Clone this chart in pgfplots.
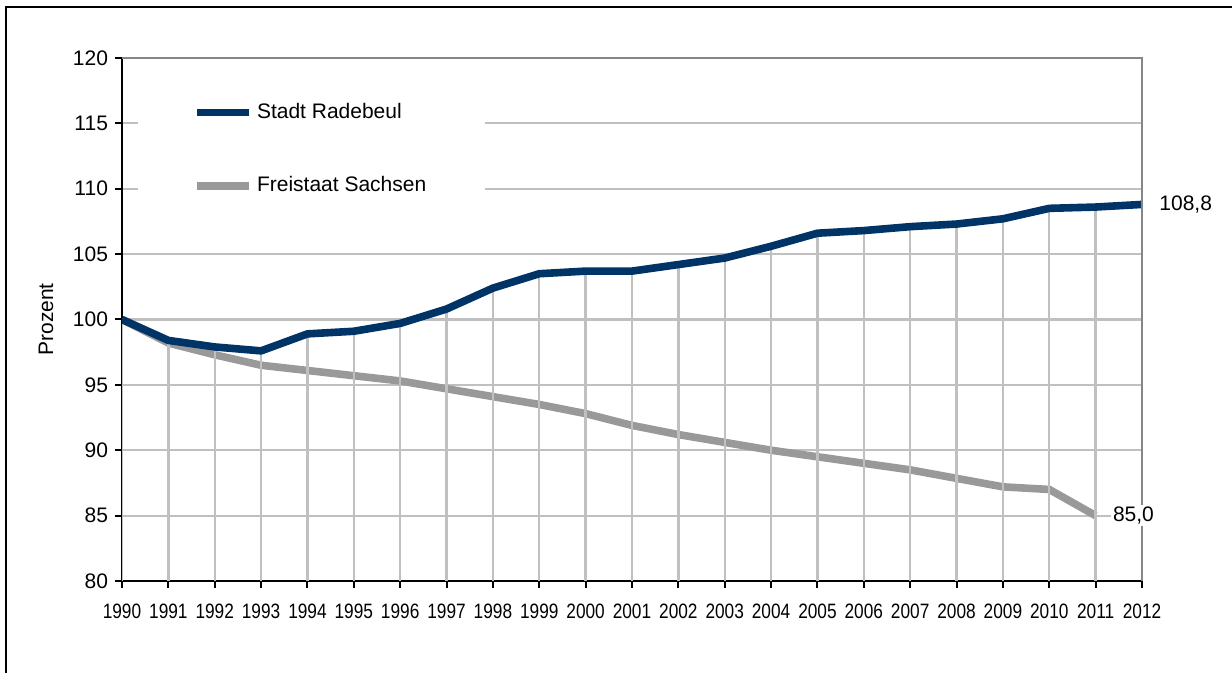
\documentclass[border=0pt]{standalone}
\usepackage{fontspec}
\setmainfont{Liberation Sans}
\usepackage{pgfplots}
\pgfplotsset{compat=1.18}
\usepackage{pgfplotstable}
\definecolor{radblue}{RGB}{0,51,102}
\definecolor{sachgray}{RGB}{153,153,153}
\definecolor{gridgray}{RGB}{192,192,192}
\definecolor{framegray}{RGB}{134,134,134}

\pgfplotstableread{
year rad
1990 100.0
1991 98.4
1992 97.9
1993 97.6
1994 98.9
1995 99.1
1996 99.7
1997 100.8
1998 102.4
1999 103.5
2000 103.7
2001 103.7
2002 104.2
2003 104.7
2004 105.6
2005 106.6
2006 106.8
2007 107.1
2008 107.3
2009 107.7
2010 108.5
2011 108.6
2012 108.8
}\radtab

\pgfplotstableread{
year sax
1990 100.0
1991 98.2
1992 97.3
1993 96.5
1994 96.1
1995 95.7
1996 95.3
1997 94.7
1998 94.1
1999 93.5
2000 92.8
2001 91.9
2002 91.2
2003 90.6
2004 90.0
2005 89.5
2006 89.0
2007 88.5
2008 87.85
2009 87.2
2010 87.0
2011 85.0
}\saxtab

\begin{document}
\begin{tikzpicture}
\path[use as bounding box] (0,0) rectangle (616pt,336.5pt);
\draw[line width=1pt] (3pt,0) -- (3pt,333.2pt) -- (616pt,333.2pt);
\begin{axis}[
  at={(61pt,46pt)}, anchor=south west, scale only axis,
  width=510pt, height=261.5pt,
  xmin=1990, xmax=2012, ymin=80, ymax=120,
  xtick={1990,1991,...,2012}, ytick={80,85,...,120},
  axis x line*=bottom, axis y line*=left,
  axis line style={line width=1.1pt, black, -},
  tick align=outside, major tick length=3.5pt,
  tick style={black, line width=1pt},
  ymajorgrids, grid style={gridgray, line width=1.1pt},
  /pgf/number format/assume math mode=true,
  /pgf/number format/1000 sep={},
  yticklabel style={font=\fontsize{10.5}{12}\selectfont},
  xticklabel style={font=\fontsize{10.4}{12}\selectfont, xscale=0.83, yshift=-4.5pt},
  every axis y label/.style={at={(axis description cs:-0.0745,0.5)}, rotate=90, anchor=center, font=\fontsize{10.5}{12}\selectfont},
  ylabel={Prozent},
  clip mode=individual,
  no markers,
  legend style={at={(axis description cs:0.0157,0.952)}, anchor=north west,
    draw=none, fill=white, inner xsep=27.5pt, inner ysep=8pt, row sep=23.5pt,
    font=\fontsize{10.5}{12}\selectfont, nodes={inner sep=2pt},
    /tikz/every even column/.append style={column sep=4pt}},
  legend cell align=left,
  legend image code/.code={\draw[#1, line width=3.8pt] (0pt,0pt) -- (26pt,0pt);},
]
\addlegendimage{radblue}
\addlegendentry{Stadt Radebeul}
\addlegendimage{sachgray}
\addlegendentry{Freistaat Sachsen}
\addplot[sachgray, line width=3.8pt, forget plot] table[x=year, y=sax] {\saxtab};
\addplot[ycomb, gridgray, line width=1.2pt, forget plot] table[x=year, y=rad] {\radtab};
\addplot[radblue, line width=3.8pt, forget plot] table[x=year, y=rad] {\radtab};
\draw[framegray, line width=1pt] (rel axis cs:0,1) -- (rel axis cs:1,1) -- (rel axis cs:1,0);
\node[anchor=west, font=\fontsize{10.5}{12}\selectfont, fill=white, inner sep=1pt, xshift=7.5pt] at (axis cs:2012,108.8) {108,8};
\node[anchor=west, font=\fontsize{10.5}{12}\selectfont, fill=white, inner sep=1pt, xshift=7.5pt] at (axis cs:2011,85) {85,0};
\end{axis}
\end{tikzpicture}
\end{document}
